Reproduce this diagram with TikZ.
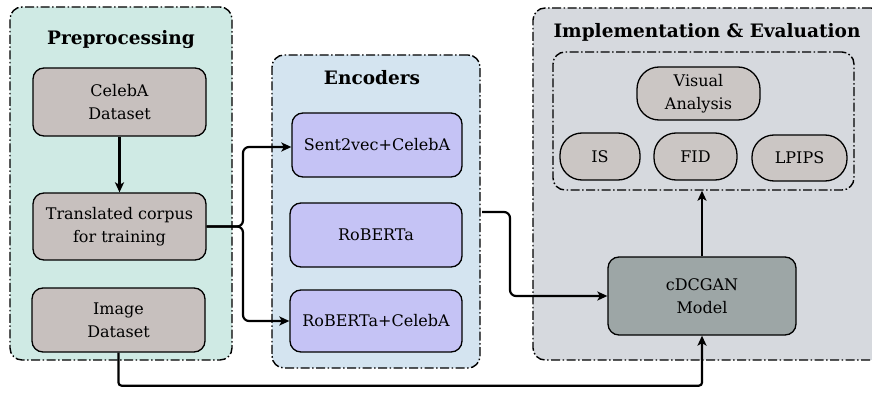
\documentclass[tikz,border=0pt]{standalone}
\usepackage{fontspec}
\setmainfont{DejaVu Serif}
\usetikzlibrary{arrows.meta,positioning}

\definecolor{preFill}{RGB}{207,234,228}
\definecolor{encFill}{RGB}{212,228,240}
\definecolor{impFill}{RGB}{214,217,222}
\definecolor{boxGray}{RGB}{199,192,190}
\definecolor{evalGray}{RGB}{203,198,196}
\definecolor{encBox}{RGB}{197,195,245}
\definecolor{ganFill}{RGB}{157,166,166}

\tikzset{
  group/.style={draw=black, line width=1.4pt, rounded corners=12pt,
    dash pattern=on 9pt off 2.5pt on 1.5pt off 2.5pt},
  title/.style={font=\fontsize{18.5}{21}\selectfont\bfseries},
  block/.style={draw=black, line width=1.3pt, rounded corners=11pt,
    align=center, font=\fontsize{16}{23}\selectfont, inner sep=0pt},
  pill/.style={block, rounded corners=22pt},
  conn/.style={line width=2.2pt, -{Stealth[length=10pt,width=9pt,inset=2.5pt]}},
}

\begin{document}
\begin{tikzpicture}[x=1pt,y=-1pt]
\clip (0,0) rectangle (872,393);
\useasboundingbox (0,0) rectangle (872,393);
\fill[white] (0,0) rectangle (872,393);

% stage frames
\node[group, fill=preFill, minimum width=222pt, minimum height=353pt] (pre) at (121,183.5) {};
\node[group, fill=encFill, minimum width=208pt, minimum height=313pt] (enc) at (376,211.5) {};
\node[group, fill=impFill, minimum width=350pt, minimum height=352pt] (imp) at (708,184) {};
\node[group, minimum width=301pt, minimum height=138pt] (inner) at (703.5,121) {};

% stage titles
\node[title] (preT) at (121,40) {Preprocessing};
\node[title] (encT) at (372,78) {Encoders};
\node[title] (impT) at (707,32) {Implementation \& Evaluation};

% preprocessing
\node[block, fill=boxGray, minimum width=173pt, minimum height=68pt] (celeba) at (119.5,102) {CelebA\\Dataset};
\node[block, fill=boxGray, minimum width=173pt, minimum height=67pt] (corpus) at (119.5,226.5) {Translated corpus\\for training};
\node[block, fill=boxGray, minimum width=173pt, minimum height=64pt] (imgds) at (118.5,320) {Image\\Dataset};

% encoders
\node[block, fill=encBox, minimum width=170pt, minimum height=64pt] (s2v) at (377,145) {Sent2vec+CelebA};
\node[block, fill=encBox, minimum width=172pt, minimum height=64pt] (rob) at (376,235) {RoBERTa};
\node[block, fill=encBox, minimum width=172pt, minimum height=62pt] (robc) at (376,321) {RoBERTa+CelebA};

% evaluation
\node[pill, fill=evalGray, minimum width=123pt, minimum height=53pt] (visual) at (698.5,93.5) {Visual\\Analysis};
\node[pill, fill=evalGray, minimum width=80pt, minimum height=47pt] (is) at (600,156.5) {IS};
\node[pill, fill=evalGray, minimum width=83pt, minimum height=47pt] (fid) at (695.5,156.5) {FID};
\node[pill, fill=evalGray, minimum width=95pt, minimum height=46pt] (lpips) at (799.5,158) {LPIPS};

% model
\node[block, fill=ganFill, minimum width=188pt, minimum height=78pt] (gan) at (702,296) {cDCGAN\\Model};

% connectors
\coordinate (split) at (243,226.5);
\coordinate (encout) at (482,212);
\coordinate (bend) at (510,212);

\draw[conn] (celeba.south) -- (corpus.north);
\draw[conn, rounded corners=6pt] (corpus.east) -- (split) |- ([yshift=-2pt]s2v.west);
\draw[conn, rounded corners=6pt] (corpus.east) -- (split) |- (robc.west);
\draw[conn, rounded corners=6pt] (encout) -- (bend) |- (gan.west);
\draw[conn] (gan.north) -- (gan.north |- inner.south);
\draw[conn, rounded corners=3pt] (imgds.south) -- ++(0,33) -| (gan.south);
\end{tikzpicture}
\end{document}
